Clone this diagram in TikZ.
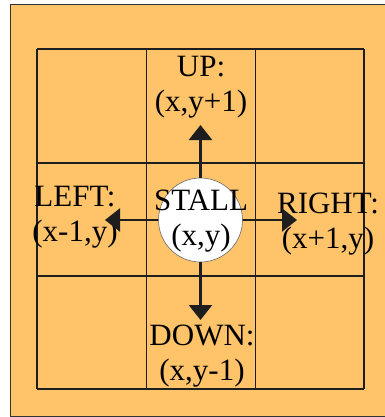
\documentclass[tikz,border=0pt]{standalone}
\usepackage{fontspec}
\setmainfont{Liberation Serif}
\usepackage{tikz}
\usetikzlibrary{arrows.meta, positioning}
\usepackage{xcolor}
\definecolor{floor}{RGB}{255,195,106}
\definecolor{ink}{RGB}{30,30,30}

\begin{document}
\begin{tikzpicture}[
  x=1pt, y=-1pt,
  label/.style={font=\fontsize{31}{35}\selectfont, align=center, inner sep=0pt},
  gridline/.style={ink, line width=1.8pt},
  arrow/.style={-{Triangle[length=15pt, width=23pt]}, ink, line width=2.6pt}
]
  \useasboundingbox (0,0) rectangle (384,417);
  \draw[fill=floor, draw=black!80, line width=1pt] (10,5) rectangle (386,416);

  \foreach \gx in {37,146.5,255.5,364}
    \draw[gridline] (\gx,49) -- (\gx,389);
  \foreach \gy in {49,163,276,389}
    \draw[gridline] (37,\gy) -- (364,\gy);

  \node[circle, fill=white, draw=black!60, line width=0.6pt,
        minimum size=84pt, inner sep=0pt] (stall) at (200.5,220) {};
  \node[label] (stalltext) at (201,221) {STALL\\(x,y)};

  \node[label] (up) at (201,87) {UP:\\(x,y+1)};
  \node[label] (down) at (202,356) {DOWN:\\(x,y-1)};
  \node[label] (left) at (75,217) {LEFT:\\(x-1,y)};
  \node[label] (right) at (328,224) {RIGHT:\\(x+1,y)};

  \coordinate (uptip) at (200.5,125);
  \coordinate (downtip) at (200.5,320);
  \coordinate (lefttip) at (105,220);
  \coordinate (righttip) at (297,220);

  \draw[arrow] (stall.north) -- (uptip);
  \draw[arrow] (stall.south) -- (downtip);
  \draw[arrow] (stall.west) -- (lefttip);
  \draw[arrow] (stall.east) -- (righttip);
\end{tikzpicture}
\end{document}
